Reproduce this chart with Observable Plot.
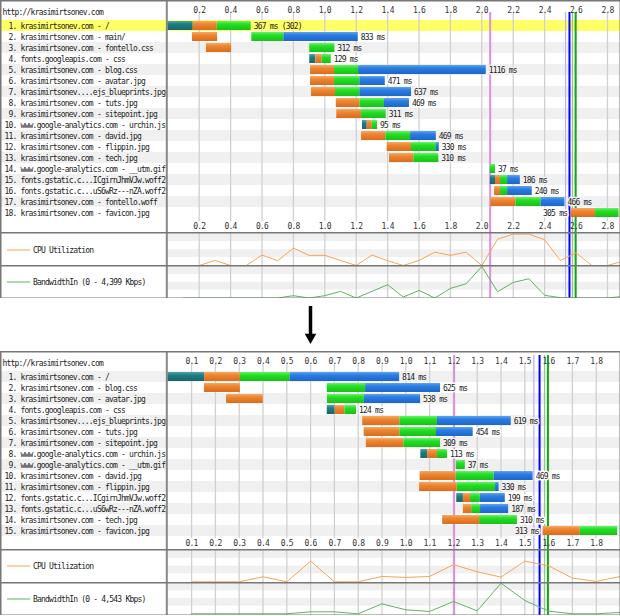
<!DOCTYPE html>
<html><head><meta charset="utf-8">
<script src="https://cdn.jsdelivr.net/npm/d3@7"></script>
<script src="https://cdn.jsdelivr.net/npm/@observablehq/plot@0.6"></script>
<style>
html,body{margin:0;padding:0;background:#fff;}
#root{position:relative;width:620px;height:616px;overflow:hidden;background:#fff;}
#root > div.p{position:absolute;left:0;}
#root svg text{font-family:"DejaVu Sans Mono",monospace;font-size:8px;letter-spacing:-0.8px;}
.legend{position:absolute;left:7px;font-family:"DejaVu Sans Mono",monospace;font-size:8px;letter-spacing:-0.8px;color:#222;transform:translateY(-50%);white-space:pre;display:flex;align-items:center;}
.legend .sw{display:inline-block;width:23px;height:0;border-top:1px solid;margin-right:3px;}
</style></head><body>
<svg width="0" height="0" style="position:absolute"><defs>
<linearGradient id="gTeal" x1="0" y1="0" x2="0" y2="1"><stop offset="0" stop-color="#4fa5aa"/><stop offset="0.35" stop-color="#1f7d84"/><stop offset="1" stop-color="#17666c"/></linearGradient>
<linearGradient id="gOrange" x1="0" y1="0" x2="0" y2="1"><stop offset="0" stop-color="#f7aa62"/><stop offset="0.35" stop-color="#ed8532"/><stop offset="1" stop-color="#d96d1c"/></linearGradient>
<linearGradient id="gGreen" x1="0" y1="0" x2="0" y2="1"><stop offset="0" stop-color="#6af26a"/><stop offset="0.35" stop-color="#24de24"/><stop offset="1" stop-color="#18c018"/></linearGradient>
<linearGradient id="gBlue" x1="0" y1="0" x2="0" y2="1"><stop offset="0" stop-color="#62a3f3"/><stop offset="0.35" stop-color="#2a7de2"/><stop offset="1" stop-color="#1c66c8"/></linearGradient>
</defs></svg>
<div id="root"></div>
<script>
// ---------------- DATA ----------------
const SITE = "http://krasimirtsonev.com";

// ----- before (top) -----
const topLabels = [
  "\u00a01. krasimirtsonev.com - /",
  "\u00a02. krasimirtsonev.com - main/",
  "\u00a03. krasimirtsonev.com - fontello.css",
  "\u00a04. fonts.googleapis.com - css",
  "\u00a05. krasimirtsonev.com - blog.css",
  "\u00a06. krasimirtsonev.com - avatar.jpg",
  "\u00a07. krasimirtsonev....ejs_blueprints.jpg",
  "\u00a08. krasimirtsonev.com - tuts.jpg",
  "\u00a09. krasimirtsonev.com - sitepoint.jpg",
  "10. www.google-analytics.com - urchin.js",
  "11. krasimirtsonev.com - david.jpg",
  "12. krasimirtsonev.com - flippin.jpg",
  "13. krasimirtsonev.com - tech.jpg",
  "14. www.google-analytics.com - __utm.gif",
  "15. fonts.gstatic.c...ICgirnJhmVJw.woff2",
  "16. fonts.gstatic.c...uS6wRz---nZA.woff2",
  "17. krasimirtsonev.com - fontello.woff",
  "18. krasimirtsonev.com - favicon.jpg"
];
const topDurations = ["367 ms (302)","833 ms","312 ms","129 ms","1116 ms","471 ms","637 ms","469 ms","311 ms","95 ms","469 ms","330 ms","310 ms","37 ms","186 ms","240 ms","466 ms","305 ms"];
const topHighlight = [1];
// [row, start s, end s]
const topDns = [[1,0,0.162],[4,0.904,0.943],[10,1.240,1.270],[15,2.054,2.087]];
const topConnect = [[1,0.162,0.315],[2,0.157,0.317],[3,0.246,0.406],[4,0.943,0.983],[5,0.909,1.062],[6,0.909,1.062],[7,0.915,1.068],[8,1.073,1.223],[9,1.076,1.234],[10,1.270,1.302],[11,1.234,1.389],[12,1.397,1.552],[13,1.412,1.567],[15,2.087,2.119],[16,2.081,2.119],[17,2.057,2.217],[18,2.569,2.724]];
const topTtfb = [[1,0.315,0.531],[2,0.535,0.739],[3,0.904,1.064],[4,0.983,1.041],[5,1.062,1.215],[6,1.062,1.223],[7,1.068,1.223],[8,1.223,1.380],[9,1.234,1.391],[10,1.302,1.336],[11,1.389,1.546],[12,1.552,1.711],[13,1.567,1.726],[14,2.054,2.087],[15,2.119,2.164],[16,2.119,2.164],[17,2.217,2.378],[18,2.724,2.874]];
const topDownload = [[2,0.739,1.213],[5,1.215,2.028],[6,1.223,1.385],[7,1.223,1.552],[8,1.380,1.539],[11,1.546,1.710],[12,1.711,1.729],[15,2.164,2.245],[16,2.164,2.321],[17,2.378,2.529]];
const topTicks = [0.2,0.4,0.6,0.8,1.0,1.2,1.4,1.6,1.8,2.0,2.2,2.4,2.6,2.8];
const topEventTimes = [2.053,2.533,2.558,2.577,2.597];
const topCpu = [[0.1,0],[0.2,0],[0.3,16],[0.4,0],[0.5,0],[0.6,33],[0.7,15],[0.8,55],[0.9,32],[1.0,32],[1.1,16],[1.2,0],[1.3,33],[1.4,15],[1.5,0],[1.6,16],[1.7,42],[1.8,32],[1.9,42],[2.0,0],[2.1,83],[2.2,99],[2.3,99],[2.4,81],[2.5,16],[2.6,40],[2.7,0],[2.8,0],[2.9,14]];
const topBandwidth = [[0.1,0],[0.2,0],[0.3,0],[0.4,0],[0.5,0],[0.6,0],[0.7,0],[0.8,324],[0.9,0],[1.0,324],[1.1,926],[1.2,0],[1.3,926],[1.4,1852],[1.5,139],[1.6,1065],[1.7,0],[1.8,1343],[1.9,1991],[2.0,4399],[2.1,880],[2.2,2176],[2.3,2686],[2.4,370],[2.5,46],[2.6,0],[2.7,0],[2.8,0],[2.9,230]];
const topBandwidthMax = 4399;
const topMax = 2.883;

// ----- after (bottom) -----
const botLabels = [
  "\u00a01. krasimirtsonev.com - /",
  "\u00a02. krasimirtsonev.com - blog.css",
  "\u00a03. krasimirtsonev.com - avatar.jpg",
  "\u00a04. fonts.googleapis.com - css",
  "\u00a05. krasimirtsonev....ejs_blueprints.jpg",
  "\u00a06. krasimirtsonev.com - tuts.jpg",
  "\u00a07. krasimirtsonev.com - sitepoint.jpg",
  "\u00a08. www.google-analytics.com - urchin.js",
  "\u00a09. www.google-analytics.com - __utm.gif",
  "10. krasimirtsonev.com - david.jpg",
  "11. krasimirtsonev.com - flippin.jpg",
  "12. fonts.gstatic.c...ICgirnJhmVJw.woff2",
  "13. fonts.gstatic.c...uS6wRz---nZA.woff2",
  "14. krasimirtsonev.com - tech.jpg",
  "15. krasimirtsonev.com - favicon.jpg"
];
const botDurations = ["814 ms","625 ms","538 ms","124 ms","619 ms","454 ms","309 ms","113 ms","37 ms","469 ms","330 ms","199 ms","187 ms","310 ms","313 ms"];
const botHighlight = [];
const botDns = [[1,0,0.155],[4,0.670,0.703],[8,1.063,1.092],[12,1.214,1.242]];
const botConnect = [[1,0.155,0.305],[2,0.154,0.305],[3,0.247,0.401],[4,0.703,0.744],[5,0.819,0.975],[6,0.825,0.975],[7,0.834,0.992],[8,1.092,1.133],[10,1.060,1.212],[11,1.058,1.216],[12,1.242,1.272],[13,1.242,1.277],[14,1.155,1.310],[15,1.577,1.733]];
const botTtfb = [[1,0.305,0.514],[2,0.670,0.831],[3,0.671,0.826],[4,0.744,0.793],[5,0.975,1.133],[6,0.975,1.129],[7,0.992,1.146],[8,1.133,1.175],[9,1.212,1.250],[10,1.212,1.371],[11,1.216,1.377],[12,1.272,1.313],[13,1.277,1.314],[14,1.310,1.469],[15,1.733,1.890]];
const botDownload = [[1,0.514,0.974],[2,0.831,1.146],[3,0.826,1.062],[5,1.133,1.443],[6,1.129,1.283],[10,1.371,1.535],[11,1.377,1.392],[12,1.313,1.418],[13,1.314,1.432]];
const botTicks = [0.1,0.2,0.3,0.4,0.5,0.6,0.7,0.8,0.9,1.0,1.1,1.2,1.3,1.4,1.5,1.6,1.7,1.8];
const botEventTimes = [1.203,1.538,1.562,1.583,1.597];
const botCpu = [[0.1,0],[0.2,0],[0.3,0],[0.4,16],[0.5,0],[0.6,66],[0.7,0],[0.8,0],[0.9,17],[1.0,14],[1.1,17],[1.2,55],[1.3,32],[1.4,15],[1.5,66],[1.6,51],[1.7,12],[1.8,1],[1.9,17]];
const botBandwidth = [[0.1,0],[0.2,0],[0.3,0],[0.4,0],[0.5,0],[0.6,296],[0.7,296],[0.8,0],[0.9,1481],[1.0,593],[1.1,346],[1.2,1827],[1.3,444],[1.4,4543],[1.5,1975],[1.6,395],[1.7,0],[1.8,0],[1.9,198]];
const botBandwidthMax = 4543;
const botMax = 1.902;

// ---------------- STYLE ----------------
const eventColors = ["#dd8fdd","#b4b4ff","#0000ff","#8fc88f","#16a416"];
const eventWidths = [2,1.3,2,1.3,2];
const X0 = 167.3, XW = 620;
const fmt = d3.format(".1f");
const root = document.getElementById("root");

function place(node, top, left = 0) {
  const d = document.createElement("div");
  d.className = "p";
  d.style.top = top + "px";
  d.style.left = left + "px";
  d.appendChild(node);
  root.appendChild(d);
}
function legend(text, color, cy) {
  const d = document.createElement("div");
  d.className = "legend";
  d.style.top = cy + "px";
  const sw = document.createElement("span");
  sw.className = "sw";
  sw.style.borderColor = color;
  d.appendChild(sw);
  d.appendChild(document.createTextNode(text));
  root.appendChild(d);
}
function eventMarks(times, insetTop) {
  return times.map((t, i) => Plot.ruleX([t], {x: d => d, stroke: eventColors[i], strokeWidth: eventWidths[i], insetTop}));
}

function waterfall(o) {
  const n = o.labels.length;
  const rows = d3.range(1, n + 1);
  const all = [o.dns, o.connect, o.ttfb, o.download].flat();
  const rowBg = r => o.highlight.includes(r) ? "#ffff66" : (r % 2 === 1 ? "#f0f0f0" : "#ffffff");
  const labelData = rows.map(r => {
    const segs = all.filter(s => s[0] === r);
    return {row: r, text: o.durations[r - 1], end: d3.max(segs, s => s[2]), start: d3.min(segs, s => s[1]), bg: rowBg(r)};
  });
  const seg = (data, fill) => Plot.barX(data, {y: d => d[0], x1: d => d[1], x2: d => d[2], fill, insetTop: 1, insetBottom: 1});
  return Plot.plot({
    width: 620, height: o.height,
    marginLeft: 0, marginRight: 0, marginTop: 0, marginBottom: 0,
    x: {domain: [0, o.max], range: [X0, XW], axis: null},
    y: {type: "band", domain: rows, range: o.rowRange, padding: 0, axis: null},
    marks: [
      Plot.cell(rows.filter(r => r % 2 === 1 && !o.highlight.includes(r)), {y: d => d, fill: "#f0f0f0"}),
      Plot.cell(o.highlight, {y: d => d, fill: "#ffff66"}),
      Plot.ruleX(o.ticks, {x: d => d, stroke: "#d0d0d0", strokeWidth: 1.3, insetTop: o.rowRange[0] - 5, insetBottom: o.height - o.rowRange[1]}),
      ...eventMarks(o.events, o.eventTop),
      seg(o.dns, "url(#gTeal)"),
      seg(o.connect, "url(#gOrange)"),
      seg(o.ttfb, "url(#gGreen)"),
      seg(o.download, "url(#gBlue)"),
      Plot.text(labelData.filter(d => d.row !== n), {x: "end", y: "row", text: "text", textAnchor: "start", dx: 2.5, fill: "#222", stroke: "bg", strokeWidth: 3}),
      Plot.text(labelData.filter(d => d.row === n), {x: "start", y: "row", text: "text", textAnchor: "end", dx: -4, fill: "#222", stroke: "bg", strokeWidth: 3}),
      Plot.text(o.labels, {y: (d, i) => i + 1, text: d => d, frameAnchor: "left", textAnchor: "start", dx: 4, fill: "#222"}),
      Plot.text([SITE], {text: d => d, frameAnchor: "top-left", textAnchor: "start", dx: 2, dy: 9, fill: "#222"}),
      Plot.text(o.ticks, {x: d => d, text: d => fmt(d), frameAnchor: "top", dy: o.tickTop, fill: "#333"}),
      Plot.text(o.ticks, {x: d => d, text: d => fmt(d), frameAnchor: "bottom", dy: o.tickBottom, fill: "#333"}),
      Plot.ruleX([0], {x: d => d, stroke: "#888", strokeWidth: 2, dx: -1}),
      Plot.frame({stroke: "#777", strokeWidth: 2})
    ]
  });
}

const stripeBands = [[0.75, 1], [0.25, 0.5]];
function panel(o) {
  return Plot.plot({
    width: 620, height: o.height,
    marginLeft: 0, marginRight: 0, marginTop: 0, marginBottom: 0,
    x: {domain: [0, o.max], range: [X0, XW], axis: null},
    y: {domain: [0, o.ymax], range: o.yRange, axis: null},
    marks: [
      Plot.rect(stripeBands, {x1: () => 0, x2: () => o.max, y1: d => d[0] * o.ymax, y2: d => d[1] * o.ymax, fill: "#f0f0f0"}),
      Plot.ruleX(o.ticks, {x: d => d, stroke: "#d0d0d0", strokeWidth: 1.3}),
      ...eventMarks(o.events, 0),
      Plot.line(o.data, {x: d => d[0], y: d => d[1], stroke: o.color, strokeWidth: 1, clip: true}),
      Plot.ruleX([0], {x: d => d, stroke: "#888", strokeWidth: 2, dx: -1}),
      Plot.frame({stroke: "#777", strokeWidth: 2})
    ]
  });
}

const cpuColor = "#f9a450", bwColor = "#5fb35f";

// top block
place(waterfall({labels: topLabels, durations: topDurations, highlight: topHighlight, dns: topDns, connect: topConnect, ttfb: topTtfb, download: topDownload,
  ticks: topTicks, events: topEventTimes, max: topMax, height: 233, rowRange: [17.3, 221.3], tickTop: 7.3, tickBottom: -4.7, eventTop: 12}), 0);
place(panel({data: topCpu, ymax: 100, max: topMax, ticks: topTicks, events: topEventTimes, height: 34, yRange: [33, 1.3], color: cpuColor}), 232);
place(panel({data: topBandwidth, ymax: topBandwidthMax, max: topMax, ticks: topTicks, events: topEventTimes, height: 33, yRange: [32.5, 1], color: bwColor}), 265);
legend("CPU Utilization", cpuColor, 249.5);
legend("BandwidthIn (0 - 4,399 Kbps)", bwColor, 282);

// arrow
const arrowShaft = [[0, 0.76]];
const arrowHead = [0.83];
place(Plot.plot({width: 20, height: 46, margin: 0,
  x: {domain: [0, 1], range: [0, 20], axis: null},
  y: {domain: [0, 1], range: [6, 43], axis: null},
  marks: [
    Plot.ruleX(arrowShaft, {x: () => 0.5, y1: d => d[0], y2: d => d[1], stroke: "#000", strokeWidth: 3.5}),
    Plot.dot(arrowHead, {x: () => 0.5, y: d => d, symbol: "triangle", r: 4.3, rotate: 180, fill: "#000", stroke: "none"})
  ]}), 300, 300);

// bottom block
place(waterfall({labels: botLabels, durations: botDurations, highlight: botHighlight, dns: botDns, connect: botConnect, ttfb: botTtfb, download: botDownload,
  ticks: botTicks, events: botEventTimes, max: botMax, height: 199, rowRange: [17.7, 187.2], tickTop: 7.3, tickBottom: -5, eventTop: 4}), 351);
place(panel({data: botCpu, ymax: 100, max: botMax, ticks: botTicks, events: botEventTimes, height: 34, yRange: [32.3, 1], color: cpuColor}), 549);
place(panel({data: botBandwidth, ymax: botBandwidthMax, max: botMax, ticks: botTicks, events: botEventTimes, height: 33, yRange: [31.3, 0.7], color: bwColor}), 582);
legend("CPU Utilization", cpuColor, 566);
legend("BandwidthIn (0 - 4,543 Kbps)", bwColor, 598.5);
</script>
</body></html>
